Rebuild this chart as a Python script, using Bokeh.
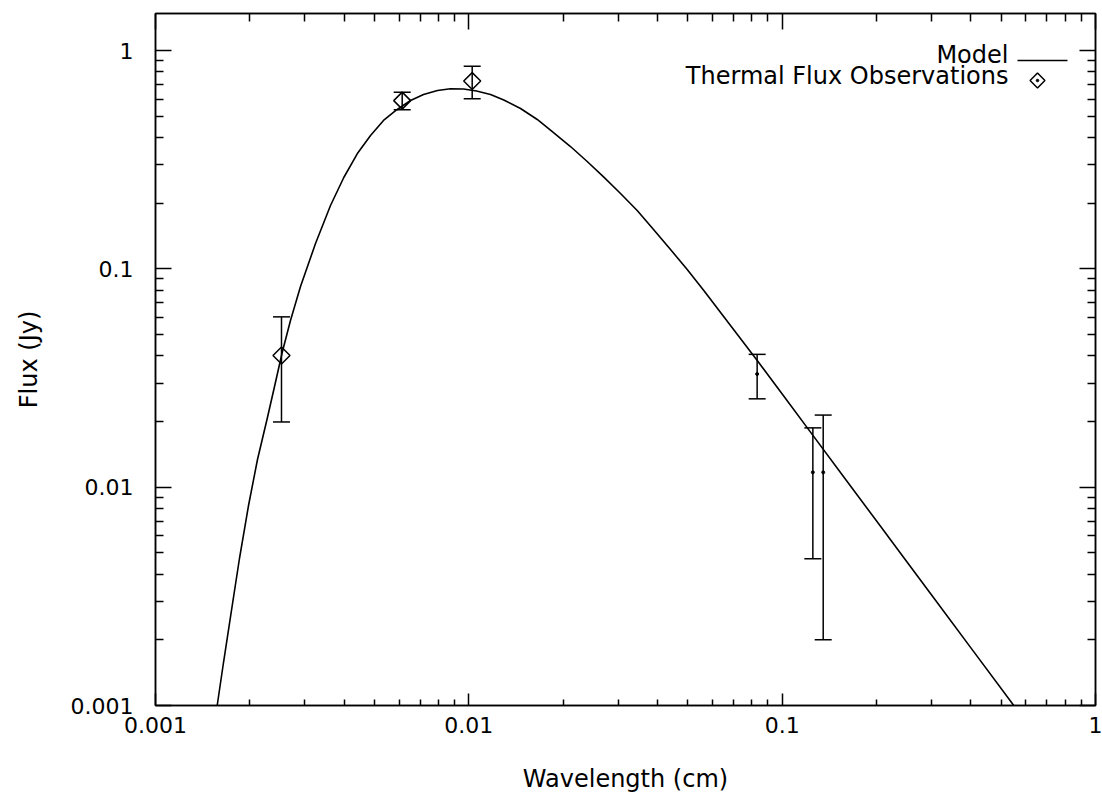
import math
from bokeh.plotting import figure
from bokeh.models import (ColumnDataSource, Whisker, TeeHead, LogAxis, FixedTicker,
                          Label)
from bokeh.embed import file_html
from bokeh.resources import INLINE

# ---------------- data ----------------
# Model curve
model_x = [0.0015736, 0.0016483, 0.0017415, 0.0018535, 0.0019811, 0.002116,
           0.0022728, 0.0023981, 0.0025371, 0.0026965, 0.0029026, 0.0032408,
           0.0036185, 0.0039897, 0.0044033, 0.004856, 0.0053419, 0.0058769,
           0.0065152, 0.007168, 0.0079434, 0.0087375, 0.009616, 0.01058,
           0.011727, 0.012931, 0.014622, 0.016532, 0.018633, 0.021109,
           0.023866, 0.026969, 0.030486, 0.034461, 0.038857, 0.04402,
           0.049768, 0.05622, 0.06841, 0.08326, 0.10099, 0.12315,
           0.15925, 0.2060, 0.2493, 0.3048, 0.4080, 0.5486]
model_y = [0.0010, 0.0015738, 0.0026388, 0.004714, 0.0082455, 0.013393,
           0.020638, 0.028925, 0.04140, 0.05802, 0.08306, 0.1307,
           0.19521, 0.26223, 0.3367, 0.4084, 0.4785, 0.5345,
           0.5907, 0.6292, 0.6564, 0.6683, 0.6669, 0.6530,
           0.6292, 0.5938, 0.5429, 0.4835, 0.4215, 0.3636,
           0.3105, 0.2631, 0.2215, 0.1851, 0.1515, 0.1227,
           0.09937, 0.07964, 0.05505, 0.03805, 0.02621, 0.01788,
           0.01088, 0.006620, 0.004580, 0.003109, 0.001770, 0.0010]

# Thermal flux observations with diamond symbols
obs_x = [0.002524, 0.006128, 0.01025]
obs_y = [0.0401, 0.590, 0.725]
obs_err = [0.0202, 0.054, 0.123]

# Observations whose symbols are faint in the picture (error bars only)
faint_x = [0.0832, 0.1253, 0.1352]
faint_y = [0.0330, 0.0117, 0.0117]
faint_err = [0.0076, 0.0070, 0.0097]

x_min, x_max = 0.001, 1.0
y_min, y_max = 0.001, 1.479

major_ticks = [0.001, 0.01, 0.1, 1.0]
tick_labels = ["0.001", "0.01", "0.1", "1"]
minor_mult = [2, 3, 4, 5, 6, 7, 8, 9]

legend_labels = ["Model", "Thermal Flux Observations"]

# ---------------- figure ----------------
FONT = "DejaVu Sans"

p = figure(width=1102, height=796, x_axis_type="log", y_axis_type="log",
           x_range=(x_min, x_max), y_range=(y_min, y_max),
           output_backend="svg", toolbar_location=None,
           min_border_left=155, min_border_right=7, min_border_top=13,
           min_border_bottom=91)
p.background_fill_color = "white"
p.border_fill_color = "white"
p.outline_line_color = "black"
p.outline_line_width = 1.5
p.xgrid.visible = False
p.ygrid.visible = False

minor_ticks = [m * t for t in major_ticks[:-1] for m in minor_mult]
overrides = {t: lab for t, lab in zip(major_ticks, tick_labels)}


def style_axis(ax, major_len, minor_len, label_size=None):
    ax.ticker = FixedTicker(ticks=major_ticks, minor_ticks=minor_ticks)
    ax.axis_line_color = "black"
    ax.axis_line_width = 1.5
    ax.major_tick_line_color = "black"
    ax.major_tick_line_width = 1.5
    ax.minor_tick_line_color = "black"
    ax.minor_tick_line_width = 1.5
    ax.major_tick_in = major_len
    ax.major_tick_out = 0
    ax.minor_tick_in = minor_len
    ax.minor_tick_out = 0
    if label_size:
        ax.major_label_overrides = overrides
        ax.major_label_text_font = FONT
        ax.major_label_text_font_size = label_size
        ax.major_label_text_color = "black"
    else:
        ax.major_label_text_font_size = "0px"
        ax.major_label_text_alpha = 0


xa = p.xaxis[0]
ya = p.yaxis[0]
style_axis(xa, 12, 6, "22px")
style_axis(ya, 16, 8, "22px")
xa.major_label_standoff = 11
ya.major_label_standoff = 22

xa.axis_label = "Wavelength (cm)"
ya.axis_label = "Flux (Jy)"
for ax in (xa, ya):
    ax.axis_label_text_font = FONT
    ax.axis_label_text_font_size = "24px"
    ax.axis_label_text_font_style = "normal"
    ax.axis_label_text_color = "black"
xa.axis_label_standoff = 29
ya.axis_label_standoff = 25

top_ax = LogAxis()
right_ax = LogAxis()
style_axis(top_ax, 16, 8)
style_axis(right_ax, 16, 8)
p.add_layout(top_ax, "above")
p.add_layout(right_ax, "right")

# ---------------- model curve ----------------
p.line(model_x, model_y, line_color="black", line_width=1.6)

# ---------------- observations ----------------
src = ColumnDataSource(dict(
    x=obs_x, y=obs_y,
    lo=[v - e for v, e in zip(obs_y, obs_err)],
    hi=[v + e for v, e in zip(obs_y, obs_err)],
))
src_f = ColumnDataSource(dict(
    x=faint_x, y=faint_y,
    lo=[v - e for v, e in zip(faint_y, faint_err)],
    hi=[v + e for v, e in zip(faint_y, faint_err)],
))


def whisker(source):
    return Whisker(source=source, base="x", upper="hi", lower="lo",
                   dimension="height", line_color="black", line_width=1.5,
                   upper_head=TeeHead(size=17, line_color="black", line_width=1.5),
                   lower_head=TeeHead(size=17, line_color="black", line_width=1.5))


p.add_layout(whisker(src))
p.add_layout(whisker(src_f))

p.scatter("x", "y", source=src, marker="square", size=12, angle=math.pi / 4,
          fill_color=None, line_color="black", line_width=1.5)
p.scatter("x", "y", source=src_f, marker="circle", size=3,
          fill_color="black", line_color="black")

# ---------------- legend (label then symbol, as in the original) ----------------
lx0, lx1 = math.log10(x_min), math.log10(x_max)
ly0, ly1 = math.log10(y_min), math.log10(y_max)


def fx(f):
    return 10 ** (lx0 + f * (lx1 - lx0))


def fy(f):
    return 10 ** (ly0 + f * (ly1 - ly0))


for lab, yf in zip(legend_labels, [0.940, 0.909]):
    p.add_layout(Label(x=fx(0.9074), y=fy(yf), text=lab, text_align="right",
                       text_baseline="middle", text_font=FONT,
                       text_font_size="24px", text_color="black"))

p.segment(x0=[fx(0.917)], y0=[fy(0.932)], x1=[fx(0.9702)], y1=[fy(0.932)],
          line_color="black", line_width=1.5)
p.scatter(x=[fx(0.9383)], y=[fy(0.9032)], marker="square", size=10.5,
          angle=math.pi / 4, fill_color=None, line_color="black", line_width=1.5)
p.scatter(x=[fx(0.9383)], y=[fy(0.9032)], marker="circle", size=2.5,
          fill_color="black", line_color="black")

open("out.html", "w").write(file_html(p, INLINE))
